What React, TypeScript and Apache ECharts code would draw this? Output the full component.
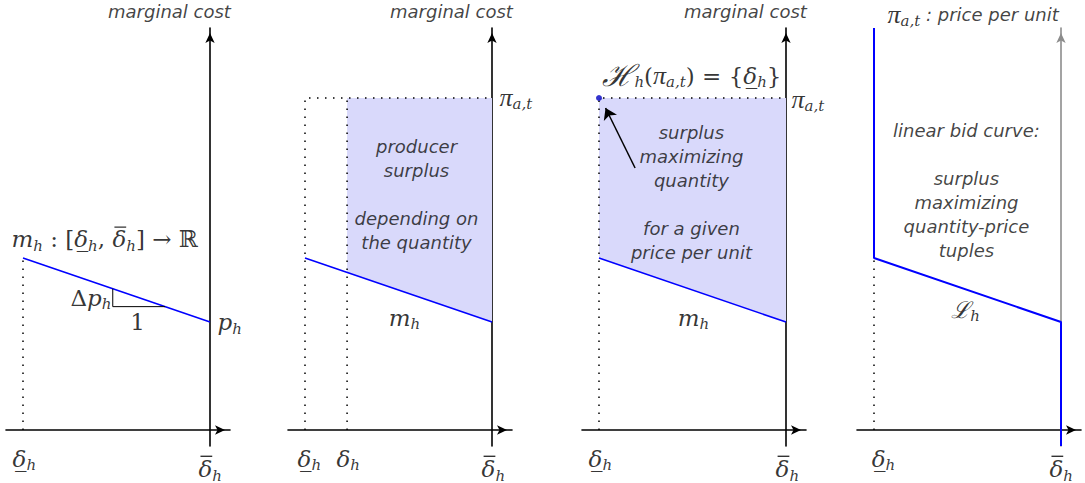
import React, { useEffect, useRef } from 'react';
import * as echarts from 'echarts';

// ---------------- data ----------------
// quantity axis normalised: δ̲_h = -1, δ̄_h = 0 ; vertical axis = marginal cost / price
const quantityRange = [-1, 0]; // [δ̲_h, δ̄_h]
const marginalCostEnds = [4.3, 2.7]; // m_h(δ̲_h), m_h(δ̄_h)
const pricePerUnit = 8.3; // π_{a,t}
const chosenQuantity = -0.775; // δ_h in panel 2
const slopeStep = [-0.52, -0.24]; // run of the slope triangle
const bidCurveTop = 10.05; // linear bid curve, vertical part at δ̲_h
const bidCurveBottom = -0.4; // vertical part at δ̄_h
const arrowTail = [-0.807, 6.55];
const arrowTip = [-0.965, 8.05];

// ---------------- texts ----------------
const M_H = '{i|m}{s|h}';
const D_LO = '{i|δ\u0332}{s|h}';
const D_MID = '{i|δ}{s|h}';
const PI = '{p|π}{s|a,t}';
const D_HI = '{g0| }{bar| }\n{iT|δ}{sT|h}';
const MAP_TEXT = '{gm| }{bar| }\n{iT|m}{sT|h}{uT| : [}{iT|δ\u0332}{sT|h}{uT|, }{iT|δ}{sT|h}{uT|] → ℝ}';
const DP_TEXT = '{u|Δ}{i|p}{s|h}';
const PH_TEXT = '{i|p}{s|h}';
const HSET_TEXT = `{scr|ℋ}{s|h}{u|(}${PI}{u|) = {}${D_LO}}`;
const LH_TEXT = '{i|ℒ}{s|h}';
const axisTitles = ['marginal cost', 'marginal cost', 'marginal cost', `${PI}{t| : price per unit}`];
const surplusNote = 'producer\nsurplus\n\ndepending on\nthe quantity';
const maxNote = 'surplus\nmaximizing\nquantity\n\nfor a given\nprice per unit';
const bidNote = 'linear bid curve:\n\nsurplus\nmaximizing\nquantity-price\ntuples';

// ---------------- layout / style ----------------
const AXIS_X = [210, 492, 786, 1061];
const PX_X = 187;
const LEFT = 204;
const RIGHT = 20;
const TOP = 28;
const ORIGIN_Y = 430;
const PX_Y = 40;
const BELOW = 16;
const SERIF_NAME = 'DejaVu Serif';
const SERIF = '"DejaVu Serif", serif';
const SANS = '"DejaVu Sans", sans-serif';
const GREEK = '"Liberation Serif", serif';
const MATH_SIZE = 23;
const SUB_SIZE = 15;
const PROSE_SIZE = 18;
const BLUE = '#0000ff';
const SHADE = '#d9d9fb';

function textWidth(text: string, font: string) {
  const ctx = document.createElement('canvas').getContext('2d') as CanvasRenderingContext2D;
  ctx.font = font;
  return ctx.measureText(text).width;
}

function buildRich() {
  const it = `italic ${MATH_SIZE}px "${SERIF_NAME}"`;
  const up = `${MATH_SIZE}px "${SERIF_NAME}"`;
  const sb = `italic ${SUB_SIZE}px "${SERIF_NAME}"`;
  const deltaW = textWidth('δ', it);
  const gapMap = textWidth('m', it) + textWidth('h', sb) + textWidth(' : [', up) + textWidth('δ', it) + textWidth('h', sb) + textWidth(', ', up);
  const base = { fontFamily: SERIF, fontSize: MATH_SIZE, color: '#000' };
  return {
    i: { ...base, fontStyle: 'italic', lineHeight: 28 },
    u: { ...base, lineHeight: 28 },
    p: { ...base, fontFamily: GREEK, fontStyle: 'italic', fontSize: 26, lineHeight: 28 },
    scr: { ...base, fontStyle: 'italic', fontSize: 30, lineHeight: 28 },
    s: { ...base, fontStyle: 'italic', fontSize: SUB_SIZE, height: SUB_SIZE, lineHeight: SUB_SIZE, verticalAlign: 'bottom' },
    iT: { ...base, fontStyle: 'italic', lineHeight: 20, verticalAlign: 'top' },
    uT: { ...base, lineHeight: 20, verticalAlign: 'top' },
    sT: { ...base, fontStyle: 'italic', fontSize: SUB_SIZE, height: SUB_SIZE, lineHeight: 26, verticalAlign: 'bottom' },
    t: { fontFamily: SANS, fontStyle: 'italic', fontSize: PROSE_SIZE, lineHeight: 28, color: '#111' },
    g0: { width: 2, height: 2, lineHeight: 5, fontSize: 2 },
    gm: { width: gapMap + 2, height: 2, lineHeight: 5, fontSize: 2 },
    bar: { width: deltaW * 0.85, height: 1.4, lineHeight: 5, fontSize: 2, backgroundColor: '#000', verticalAlign: 'bottom' },
  };
}

const mh = (x: number) =>
  marginalCostEnds[0] +
  ((marginalCostEnds[1] - marginalCostEnds[0]) * (x - quantityRange[0])) / (quantityRange[1] - quantityRange[0]);

function lineSeries(i: number, data: number[][], style: any, z = 3) {
  return {
    type: 'line', xAxisIndex: i, yAxisIndex: i, data, symbol: 'none', silent: true, clip: false, z,
    lineStyle: style,
  };
}
const dotted = { color: '#000', width: 1.5, type: [1.5, 6.5] };
const blueStyle = { color: BLUE, width: 1.6 };

function shadeSeries(i: number, pts: number[][]) {
  return {
    type: 'custom', coordinateSystem: 'cartesian2d', xAxisIndex: i, yAxisIndex: i, silent: true, z: 1,
    data: [pts[0]],
    renderItem: (_p: any, api: any) => ({
      type: 'polygon',
      shape: { points: pts.map((p) => api.coord(p)) },
      style: { fill: SHADE },
    }),
  };
}

type Note = { at: number[]; text: string; align: string; prose?: boolean };
function labelSeries(i: number, notes: Note[], rich: any) {
  return {
    type: 'scatter', xAxisIndex: i, yAxisIndex: i, symbolSize: 1, silent: true, clip: false, z: 6,
    itemStyle: { color: 'transparent' },
    label: {
      show: true, position: [0, 0], verticalAlign: 'middle', formatter: (p: any) => p.name,
      fontFamily: SERIF, fontSize: MATH_SIZE, lineHeight: 28, color: '#000', rich,
    },
    data: notes.map((n) => ({
      value: n.at,
      name: n.text,
      label: n.prose
        ? { align: n.align, fontFamily: SANS, fontStyle: 'italic', fontSize: PROSE_SIZE, lineHeight: 24, color: '#111' }
        : { align: n.align },
    })),
  };
}

function buildOption() {
  const rich = buildRich();
  const grid: any[] = [];
  const xAxis: any[] = [];
  const yAxis: any[] = [];
  const series: any[] = [];
  for (let i = 0; i < 4; i++) {
    grid.push({ left: AXIS_X[i] - LEFT, top: TOP, width: LEFT + RIGHT, height: ORIGIN_Y - TOP + BELOW });
    const axisCommon = {
      type: 'value', gridIndex: i,
      axisTick: { show: false }, axisLabel: { show: false }, splitLine: { show: false },
    };
    xAxis.push({
      ...axisCommon, min: -LEFT / PX_X, max: RIGHT / PX_X,
      axisLine: { onZero: true, symbol: ['none', 'arrow'], symbolSize: [7, 10], symbolOffset: [0, -5], lineStyle: { color: '#000', width: 1.6 } },
    });
    yAxis.push({
      ...axisCommon, min: -BELOW / PX_Y, max: (ORIGIN_Y - TOP) / PX_Y,
      axisLine: { onZero: true, symbol: ['none', 'arrow'], symbolSize: [7, 10], symbolOffset: [0, -5], lineStyle: { color: i === 3 ? '#8c8c8c' : '#000', width: 1.6 } },
    });
  }
  const [lo, hi] = quantityRange;
  const [c0, c1] = marginalCostEnds;
  const costLine = [[lo, c0], [hi, c1]];
  const topY = 10.45;

  // panel 1
  series.push(lineSeries(0, [[lo, 0], [lo, c0]], dotted));
  series.push(lineSeries(0, costLine, blueStyle));
  series.push(lineSeries(0, [[slopeStep[0], mh(slopeStep[0])], [slopeStep[0], mh(slopeStep[1])], [slopeStep[1], mh(slopeStep[1])]], { color: '#000', width: 1 }));
  series.push(labelSeries(0, [
    { at: [-0.214, topY], text: axisTitles[0], align: 'center', prose: true },
    { at: [-1.059, 4.78], text: MAP_TEXT, align: 'left' },
    { at: [-0.524, 3.3], text: DP_TEXT, align: 'right' },
    { at: [-0.385, 2.7], text: '{u|1}', align: 'center' },
    { at: [0.043, 2.68], text: PH_TEXT, align: 'left' },
    { at: [-1.053, -0.725], text: D_LO, align: 'left' },
    { at: [-0.059, -0.95], text: D_HI, align: 'left' },
  ], rich));

  // panel 2
  series.push(shadeSeries(1, [[chosenQuantity, mh(chosenQuantity)], [hi, c1], [hi, pricePerUnit], [chosenQuantity, pricePerUnit]]));
  series.push(lineSeries(1, [[lo, 0], [lo, pricePerUnit], [hi, pricePerUnit]], dotted));
  series.push(lineSeries(1, [[chosenQuantity, 0], [chosenQuantity, pricePerUnit]], dotted));
  series.push(lineSeries(1, costLine, blueStyle));
  series.push(labelSeries(1, [
    { at: [-0.214, topY], text: axisTitles[1], align: 'center', prose: true },
    { at: [0.043, 8.3], text: PI, align: 'left' },
    { at: [-0.401, 5.875], text: surplusNote, align: 'center', prose: true },
    { at: [-0.465, 2.8], text: M_H, align: 'center' },
    { at: [-1.037, -0.725], text: D_LO, align: 'left' },
    { at: [-0.829, -0.725], text: D_MID, align: 'left' },
    { at: [-0.053, -0.95], text: D_HI, align: 'left' },
  ], rich));

  // panel 3
  series.push(shadeSeries(2, [[lo, c0], [hi, c1], [hi, pricePerUnit], [lo, pricePerUnit]]));
  series.push(lineSeries(2, [[lo, 0], [lo, pricePerUnit], [hi, pricePerUnit]], dotted));
  series.push(lineSeries(2, costLine, blueStyle));
  series.push({
    type: 'scatter', xAxisIndex: 2, yAxisIndex: 2, silent: true, z: 5, symbolSize: 6,
    itemStyle: { color: '#0000c0' },
    data: [[lo, pricePerUnit]],
    markLine: {
      silent: true, symbol: ['none', 'arrow'], symbolSize: 11,
      label: { show: false }, lineStyle: { color: '#000', width: 1.5, type: 'solid' },
      data: [[{ coord: arrowTail }, { coord: arrowTip }]],
    },
  });
  series.push(labelSeries(2, [
    { at: [-0.214, topY], text: axisTitles[2], align: 'center', prose: true },
    { at: [-0.979, 8.85], text: HSET_TEXT, align: 'left' },
    { at: [0.032, 8.25], text: PI, align: 'left' },
    { at: [-0.503, 5.925], text: maxNote, align: 'center', prose: true },
    { at: [-0.492, 2.8], text: M_H, align: 'center' },
    { at: [-1.053, -0.725], text: D_LO, align: 'left' },
    { at: [-0.053, -0.95], text: D_HI, align: 'left' },
  ], rich));

  // panel 4
  series.push(lineSeries(3, [[lo, 0], [lo, c0]], dotted));
  series.push(lineSeries(3, [[lo, bidCurveTop], [lo, c0], [hi, c1], [hi, bidCurveBottom]], { color: BLUE, width: 2 }, 4));
  series.push(labelSeries(3, [
    { at: [-0.925, 10.37], text: axisTitles[3], align: 'left' },
    { at: [-0.503, 5.975], text: bidNote, align: 'center', prose: true },
    { at: [-0.508, 3.0], text: LH_TEXT, align: 'center' },
    { at: [-1.01, -0.725], text: D_LO, align: 'left' },
    { at: [-0.059, -0.95], text: D_HI, align: 'left' },
  ], rich));

  return { animation: false, backgroundColor: '#fff', grid, xAxis, yAxis, series };
}

export default function App() {
  const ref = useRef<HTMLDivElement>(null);
  useEffect(() => {
    const chart = echarts.init(ref.current as HTMLDivElement, null, { renderer: 'svg' });
    chart.setOption(buildOption() as any);
    return () => chart.dispose();
  }, []);
  return (
    <div
      ref={ref}
      style={{ position: 'fixed', left: 0, top: 0, width: 1085, height: 483, background: '#fff' }}
    />
  );
}
